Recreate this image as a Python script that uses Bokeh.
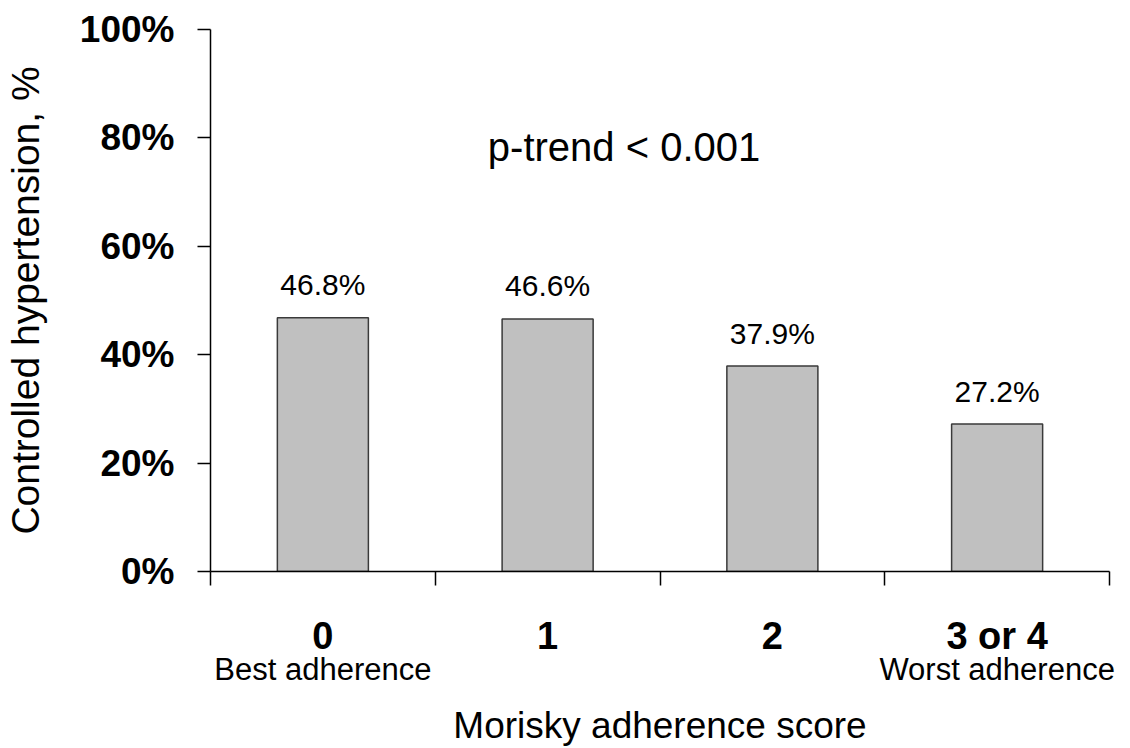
from bokeh.plotting import figure
from bokeh.models import Range1d, FixedTicker, PrintfTickFormatter, Label, ColumnDataSource, LinearAxis
from bokeh.core.properties import value
from bokeh.embed import file_html
from bokeh.resources import INLINE

# ---- data ----
categories = ["0", "1", "2", "3 or 4"]
values = [46.8, 46.6, 37.9, 27.2]
y_ticks = [0, 20, 40, 60, 80, 100]
subtitles = {0: "Best adherence", 3: "Worst adherence"}
annotation = "p-trend < 0.001"

FONT = "Liberation Sans"

x_centers = [i + 0.5 for i in range(len(categories))]
src = ColumnDataSource(dict(x=x_centers, top=values,
                            lab=[f"{v:.1f}%" for v in values]))

p = figure(width=1130, height=748, output_backend="svg", toolbar_location=None,
           x_range=Range1d(0, len(categories)), y_range=Range1d(0, 100),
           min_border_left=210, min_border_right=21, min_border_top=29,
           min_border_bottom=177)
p.outline_line_color = None
p.grid.visible = False
p.background_fill_color = "white"
p.border_fill_color = "white"

p.vbar(x="x", top="top", width=0.405, source=src, fill_color="#c0c0c0",
       line_color="#3a3a3a", line_width=1.5)
p.text(x="x", y="top", text="lab", source=src, y_offset=-33,
       text_align="center", text_baseline="alphabetic",
       text_font=value(FONT), text_font_size="30px", text_color="black")

# y axis
ya = p.yaxis[0]
ya.ticker = FixedTicker(ticks=y_ticks)
ya.formatter = PrintfTickFormatter(format="%d%%")
ya.major_tick_out = 13
ya.major_tick_in = 0
ya.minor_tick_out = 0
ya.minor_tick_in = 0
ya.axis_line_width = 1.5
ya.major_tick_line_width = 1.5
ya.axis_line_color = "black"
ya.major_tick_line_color = "black"
ya.major_label_text_font = FONT
ya.major_label_text_font_style = "bold"
ya.major_label_text_font_size = "37px"
ya.major_label_text_color = "black"
ya.major_label_standoff = 23
ya.axis_label = "Controlled hypertension, %"
ya.axis_label_text_font = FONT
ya.axis_label_text_font_style = "normal"
ya.axis_label_text_font_size = "39px"
ya.axis_label_text_color = "black"
ya.axis_label_standoff = 30

# x axis: labels at category centres, boundary ticks as minor ticks
xa = p.xaxis[0]
xa.ticker = FixedTicker(ticks=x_centers, minor_ticks=list(range(len(categories) + 1)))
xa.major_label_overrides = {c: lab for c, lab in zip(x_centers, categories)}
xa.major_tick_out = 0
xa.major_tick_in = 0
xa.minor_tick_out = 14
xa.minor_tick_in = 0
xa.axis_line_width = 1.5
xa.minor_tick_line_width = 1.5
xa.axis_line_color = "black"
xa.minor_tick_line_color = "black"
xa.major_label_text_font = FONT
xa.major_label_text_font_style = "bold"
xa.major_label_text_font_size = "38px"
xa.major_label_text_color = "black"
xa.major_label_standoff = 29

# second axis below: adherence descriptors + axis title
sub_ticks = [x_centers[i] for i in subtitles]
xa2 = LinearAxis(ticker=FixedTicker(ticks=sub_ticks),
                 major_label_overrides={x_centers[i]: t for i, t in subtitles.items()})
xa2.axis_line_color = None
xa2.major_tick_line_color = None
xa2.minor_tick_line_color = None
xa2.major_tick_out = 0
xa2.major_tick_in = 0
xa2.minor_tick_out = 0
xa2.minor_tick_in = 0
xa2.major_label_text_font = FONT
xa2.major_label_text_font_style = "normal"
xa2.major_label_text_font_size = "31px"
xa2.major_label_text_color = "black"
xa2.major_label_standoff = -8
xa2.axis_label = "Morisky adherence score"
xa2.axis_label_text_font = FONT
xa2.axis_label_text_font_style = "normal"
xa2.axis_label_text_font_size = "37px"
xa2.axis_label_text_color = "black"
xa2.axis_label_standoff = 15
p.add_layout(xa2, "below")

p.add_layout(Label(x=1.84, y=78.4, text=annotation, text_align="center",
                   text_baseline="middle", text_font=FONT,
                   text_font_size="40px", text_color="black"))

open("out.html", "w").write(file_html(p, INLINE))
